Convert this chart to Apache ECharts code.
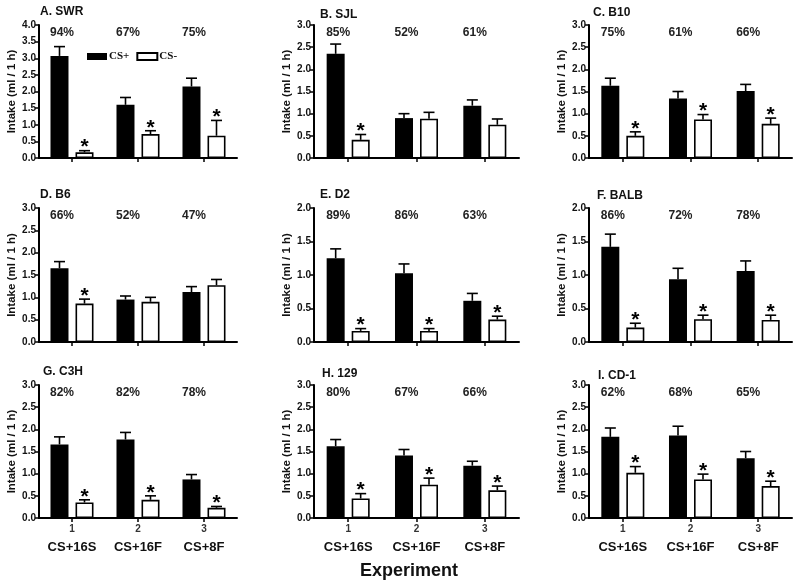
<!DOCTYPE html>
<html>
<head>
<meta charset="utf-8">
<script src="https://cdn.jsdelivr.net/npm/echarts@6/dist/echarts.min.js"></script>
<style>
html,body{margin:0;padding:0;background:#fff;}
#chart{width:800px;height:587px;}
</style>
</head>
<body>
<div id="chart"></div>
<script>
// ---------- data ----------
const panelTitles = ['A. SWR','B. SJL','C. B10','D. B6','E. D2','F. BALB','G. C3H','H. 129','I. CD-1'];
const yMaxValues = [4, 3, 3, 3, 2, 2, 3, 3, 3];
const experiments = ['1', '2', '3'];
const experimentNames = ['CS+16S', 'CS+16F', 'CS+8F'];
const csPlusMean = [
  [3.07, 1.60, 2.15],
  [2.35, 0.90, 1.18],
  [1.63, 1.34, 1.51],
  [1.65, 0.95, 1.12],
  [1.25, 1.025, 0.615],
  [1.42, 0.935, 1.06],
  [1.66, 1.77, 0.87],
  [1.62, 1.41, 1.18],
  [1.83, 1.86, 1.35]
];
const csPlusSem = [
  [0.28, 0.22, 0.25],
  [0.22, 0.10, 0.13],
  [0.17, 0.16, 0.15],
  [0.15, 0.08, 0.12],
  [0.14, 0.14, 0.11],
  [0.19, 0.165, 0.15],
  [0.17, 0.16, 0.11],
  [0.15, 0.135, 0.10],
  [0.20, 0.21, 0.15]
];
const csMinusMean = [
  [0.17, 0.72, 0.67],
  [0.41, 0.885, 0.75],
  [0.50, 0.87, 0.77],
  [0.86, 0.90, 1.27],
  [0.165, 0.165, 0.335],
  [0.215, 0.34, 0.33],
  [0.35, 0.41, 0.23],
  [0.44, 0.75, 0.625],
  [1.02, 0.87, 0.72]
];
const csMinusSem = [
  [0.05, 0.10, 0.46],
  [0.12, 0.145, 0.13],
  [0.09, 0.11, 0.13],
  [0.10, 0.10, 0.13],
  [0.035, 0.035, 0.05],
  [0.065, 0.06, 0.07],
  [0.06, 0.09, 0.03],
  [0.11, 0.15, 0.095],
  [0.14, 0.12, 0.11]
];
const csMinusSignificant = [
  [1, 1, 1],
  [1, 0, 0],
  [1, 1, 1],
  [1, 0, 0],
  [1, 1, 1],
  [1, 1, 1],
  [1, 1, 1],
  [1, 1, 1],
  [1, 1, 1]
];
const preferencePct = [
  [94, 67, 75],
  [85, 52, 61],
  [75, 61, 66],
  [66, 52, 47],
  [89, 86, 63],
  [86, 72, 78],
  [82, 82, 78],
  [80, 67, 66],
  [62, 68, 65]
];

// ---------- layout ----------
const colLeft = [39, 314, 589];
const colWidth = [198, 205, 203];
const rowTop = [25, 208, 385];
const rowHeight = [133, 134, 133];
const titlePos = [[40,6],[320,9],[593,7],[40,189],[320,189],[597,190],[43,366],[322,368],[598,370]];
const FONT = '"Liberation Sans", Arial, Helvetica, sans-serif';
const TXT = '#111';
const BAR_W = 18, BAR_OFF = 12.5;

const grid = [], xAxis = [], yAxis = [], series = [], title = [];

for (let p = 0; p < 9; p++) {
  const r = Math.floor(p / 3), c = p % 3;
  grid.push({left: colLeft[c], top: rowTop[r], width: colWidth[c], height: rowHeight[r], containLabel: false});
  const bottomRow = r === 2;
  xAxis.push({
    type: 'category', gridIndex: p, data: experiments,
    axisLine: {show: true, lineStyle: {color: '#000', width: 2}},
    axisTick: {show: true, alignWithLabel: true, length: 4, lineStyle: {color: '#000', width: 1.5}},
    axisLabel: bottomRow ? {
      show: true, margin: 5, interval: 0, hideOverlap: false,
      formatter: (v, i) => '{n|' + v + '}\n{e|' + experimentNames[i] + '}',
      rich: {
        n: {fontFamily: FONT, fontSize: 10, fontWeight: 'bold', color: '#333', lineHeight: 14, padding: [0,0,2,0]},
        e: {fontFamily: FONT, fontSize: 13, fontWeight: 'bold', color: TXT, lineHeight: 20}
      }
    } : {show: false},
    splitLine: {show: false}
  });
  yAxis.push({
    type: 'value', gridIndex: p, min: 0, max: yMaxValues[p], interval: 0.5,
    name: 'Intake (ml / 1 h)', nameLocation: 'middle', nameGap: 20,
    nameTextStyle: {fontFamily: FONT, fontSize: 11.5, fontWeight: 'bold', color: TXT},
    axisLine: {show: true, lineStyle: {color: '#000', width: 2}},
    axisTick: {show: true, length: 4, lineStyle: {color: '#000', width: 1.5}},
    axisLabel: {show: true, margin: 3, formatter: v => v.toFixed(1), fontFamily: FONT, fontSize: 10, fontWeight: 'bold', color: TXT},
    splitLine: {show: false}
  });
  title.push({
    text: panelTitles[p], left: titlePos[p][0], top: titlePos[p][1], padding: 0,
    textStyle: {fontFamily: FONT, fontSize: 12, fontWeight: 'bold', color: TXT}
  });
  series.push({
    name: 'CS+', type: 'bar', xAxisIndex: p, yAxisIndex: p,
    data: csPlusMean[p], barWidth: BAR_W, barGap: '39%',
    itemStyle: {color: '#000'}, silent: true, z: 2
  });
  series.push({
    name: 'CS-', type: 'bar', xAxisIndex: p, yAxisIndex: p,
    data: csMinusMean[p], barWidth: BAR_W, barGap: '39%',
    itemStyle: {color: '#fff', borderColor: '#000', borderWidth: 1.6}, silent: true, z: 2
  });
  // error bars + significance asterisks
  const errData = [];
  for (let i = 0; i < 3; i++) {
    errData.push([i, csPlusMean[p][i], csPlusSem[p][i], 0, -1]);
    errData.push([i, csMinusMean[p][i], csMinusSem[p][i], csMinusSignificant[p][i], 1]);
  }
  series.push({
    type: 'custom', xAxisIndex: p, yAxisIndex: p, data: errData, silent: true, z: 3,
    encode: {x: 0, y: 1},
    renderItem: (params, api) => {
      const x = api.value(0), m = api.value(1), s = api.value(2), sig = api.value(3), side = api.value(4);
      const b = api.coord([x, m]);
      const t = api.coord([x, m + s]);
      const cx = b[0] + side * BAR_OFF;
      const children = [
        {type: 'line', shape: {x1: cx, y1: b[1], x2: cx, y2: t[1]}, style: {stroke: '#000', lineWidth: 1.6}},
        {type: 'line', shape: {x1: cx - 5.5, y1: t[1], x2: cx + 5.5, y2: t[1]}, style: {stroke: '#000', lineWidth: 1.6}}
      ];
      if (sig) {
        children.push({type: 'text', x: cx, y: t[1] - 3, style: {text: '*', fontFamily: FONT, fontSize: 21, fontWeight: 'bold', fill: '#000', align: 'center', verticalAlign: 'middle'}});
      }
      return {type: 'group', children};
    }
  });
  // preference percentages
  const pctData = preferencePct[p].map((v, i) => [i, yMaxValues[p], v]);
  series.push({
    type: 'custom', xAxisIndex: p, yAxisIndex: p, data: pctData, silent: true, z: 4,
    encode: {x: 0, y: 1},
    renderItem: (params, api) => {
      const pt = api.coord([api.value(0), api.value(1)]);
      return {type: 'text', x: pt[0] - 10, y: pt[1] + 8, style: {text: api.value(2) + '%', fontFamily: FONT, fontSize: 12, fontWeight: 'bold', fill: '#222', align: 'center', verticalAlign: 'middle'}};
    }
  });
}

title.push({
  text: 'Experiment', left: 360, top: 562, padding: 0,
  textStyle: {fontFamily: FONT, fontSize: 18, fontWeight: 'bold', color: TXT}
});

const option = {
  animation: false,
  backgroundColor: '#fff',
  title,
  legend: {
    data: ['CS+', 'CS-'], left: 87, top: 51, padding: 0,
    itemWidth: 20, itemHeight: 7, itemGap: 7, icon: 'rect', selectedMode: false,
    textStyle: {fontFamily: '"Liberation Serif", "Times New Roman", serif', fontSize: 11, fontWeight: 'bold', color: TXT, padding: [0,0,0,-3]}
  },
  grid, xAxis, yAxis, series
};

const chart = echarts.init(document.getElementById('chart'), null, {renderer: 'canvas'});
chart.setOption(option);
</script>
</body>
</html>
